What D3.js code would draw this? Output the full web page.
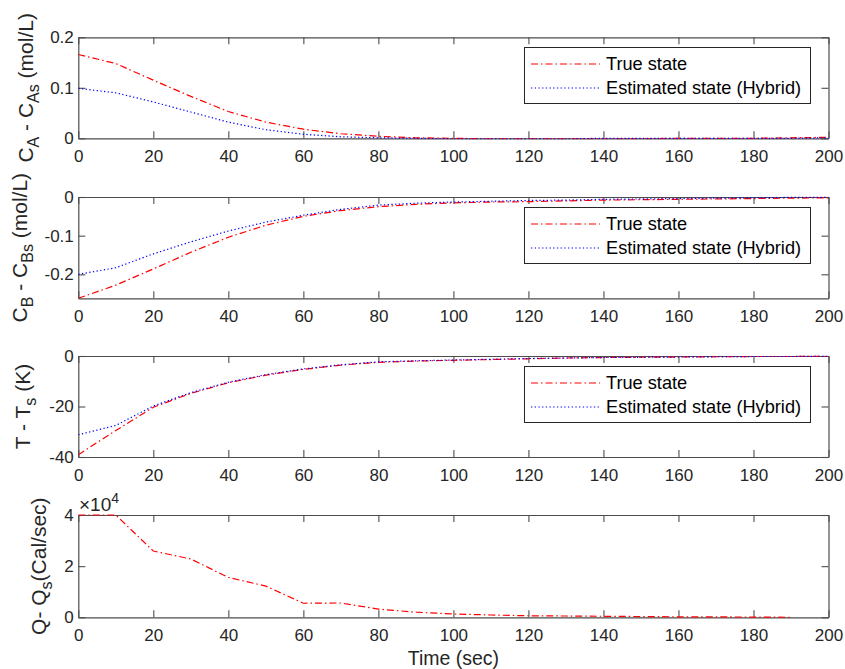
<!DOCTYPE html>
<html>
<head>
<meta charset="utf-8">
<script src="https://cdn.jsdelivr.net/npm/d3@7"></script>
<style>
  html, body { margin: 0; padding: 0; background: #fff; }
  svg { display: block; font-family: "Liberation Sans", Arial, Helvetica, sans-serif; }
</style>
</head>
<body>
<svg id="chart" width="845" height="669"></svg>
<script>
// ---------- DATA ----------
const time = [0,10,20,30,40,50,60,70,80,90,100,110,120,130,140,150,160,170,180,190,200];

const caTrue = [0.166,0.148,0.115,0.083,0.053,0.032,0.018,0.009,0.004,0.001,0.000,-0.001,-0.001,-0.001,-0.001,-0.001,0.000,0.000,0.000,0.001,0.002];
const caEst  = [0.099,0.090,0.072,0.052,0.032,0.017,0.008,0.003,0.001,0.000,-0.001,-0.001,-0.001,-0.001,0.000,0.000,0.000,0.000,0.000,0.000,0.001];

const cbTrue = [-0.262,-0.228,-0.186,-0.143,-0.104,-0.073,-0.050,-0.035,-0.025,-0.019,-0.015,-0.013,-0.012,-0.010,-0.008,-0.007,-0.006,-0.005,-0.004,-0.003,-0.002];
const cbEst  = [-0.200,-0.183,-0.147,-0.116,-0.088,-0.065,-0.047,-0.032,-0.021,-0.016,-0.013,-0.011,-0.009,-0.008,-0.006,-0.005,-0.004,-0.003,-0.002,-0.001,-0.001];

const tTrue = [-39.1,-29.5,-20.3,-14.8,-10.6,-7.6,-5.3,-3.6,-2.5,-2.0,-1.7,-1.4,-1.1,-0.8,-0.6,-0.5,-0.4,-0.3,-0.2,-0.2,-0.1];
const tEst  = [-31.2,-27.5,-19.8,-14.5,-10.4,-7.4,-5.1,-3.5,-2.3,-1.9,-1.6,-1.3,-1.0,-0.8,-0.6,-0.5,-0.4,-0.3,-0.2,-0.2,-0.1];

const qTime = [0,10,20,30,40,50,60,70,80,90,100,110,120,130,140,150,160,170,180,190];
const qTrue = [40000,40000,25900,22800,15600,12200,5500,5600,3200,2000,1300,900,600,500,400,300,200,150,100,0];

const xTicks = [0,20,40,60,80,100,120,140,160,180,200];
const legendLabels = ["True state", "Estimated state (Hybrid)"];

// ---------- LAYOUT ----------
const svg = d3.select("#chart");
const X0 = 78.3, X1 = 828.5;
const x = d3.scaleLinear().domain([0,200]).range([X0, X1]);
const textColor = "#262626";
const axisColor = "#4d4d4d";
const dashDot = "7,3,1.5,3";
const dotted = "1.3,2.4";
const FS_TICK = 17, FS_LAB = 21, FS_SUB = 16, FS_LEG = 18.2;

const panels = [
  { top: 37.3, bottom: 138.3, domain: [0, 0.2], ticks: [0, 0.1, 0.2], fmt: d => d === 0 ? "0" : d3.format(".1f")(d),
    series: [{ t: time, v: caTrue, color: "#ff0000", dash: dashDot }, { t: time, v: caEst, color: "#0000ff", dash: dotted }],
    legend: true, labelX: 33,
    label: [["C", 0], ["A", 1], [" - C", 0], ["As", 1], [" (mol/L)", 0]] },
  { top: 197, bottom: 298.3, domain: [-0.262, 0], ticks: [-0.2, -0.1, 0], fmt: d => d === 0 ? "0" : d3.format(".1f")(d).replace("−","-"),
    series: [{ t: time, v: cbTrue, color: "#ff0000", dash: dashDot }, { t: time, v: cbEst, color: "#0000ff", dash: dotted }],
    legend: true, labelX: 27,
    label: [["C", 0], ["B", 1], [" - C", 0], ["Bs", 1], [" (mol/L)", 0]] },
  { top: 356, bottom: 457, domain: [-40, 0], ticks: [-40, -20, 0], fmt: d => String(d),
    series: [{ t: time, v: tTrue, color: "#ff0000", dash: dashDot }, { t: time, v: tEst, color: "#0000ff", dash: dotted }],
    legend: true, labelX: 30,
    label: [["T - T", 0], ["s", 1], [" (K)", 0]] },
  { top: 515, bottom: 617.3, domain: [0, 40000], ticks: [0, 20000, 40000], fmt: d => String(d / 10000),
    series: [{ t: qTime, v: qTrue, color: "#ff0000", dash: dashDot }],
    legend: false, labelX: 46, exponent: true,
    label: [["Q- Q", 0], ["s", 1], ["(Cal/sec)", 0]] }
];

panels.forEach((p, pi) => {
  const y = d3.scaleLinear().domain(p.domain).range([p.bottom, p.top]);
  const g = svg.append("g");

  const clipId = "clip" + pi;
  svg.append("clipPath").attr("id", clipId).append("rect")
    .attr("x", X0).attr("y", p.top - 1).attr("width", X1 - X0).attr("height", p.bottom - p.top + 2);

  const tl = 7;
  const axB = d3.axisBottom(x).tickValues(xTicks).tickSizeInner(-tl).tickSizeOuter(0).tickPadding(12).tickFormat(d3.format("d"));
  const axT = d3.axisTop(x).tickValues(xTicks).tickSizeInner(-tl).tickSizeOuter(0).tickFormat("");
  const axL = d3.axisLeft(y).tickValues(p.ticks).tickSizeInner(-tl).tickSizeOuter(0).tickPadding(12).tickFormat(p.fmt);
  const axR = d3.axisRight(y).tickValues(p.ticks).tickSizeInner(-tl).tickSizeOuter(0).tickFormat("");

  const gB = g.append("g").attr("transform", `translate(0,${p.bottom})`).call(axB);
  const gT = g.append("g").attr("transform", `translate(0,${p.top})`).call(axT);
  const gL = g.append("g").attr("transform", `translate(${X0},0)`).call(axL);
  const gR = g.append("g").attr("transform", `translate(${X1},0)`).call(axR);
  [gB, gT, gL, gR].forEach(a => {
    a.select(".domain").attr("stroke", axisColor).attr("stroke-width", 1.2);
    a.selectAll(".tick line").attr("stroke", axisColor).attr("stroke-width", 1.1);
    a.selectAll(".tick text").attr("fill", textColor).style("font-size", FS_TICK + "px")
      .style("font-family", '"Liberation Sans", Arial, sans-serif');
  });
  gL.selectAll(".tick text").attr("x", -4.5);

  const lines = g.append("g").attr("clip-path", `url(#${clipId})`);
  p.series.forEach(s => {
    const pts = s.t.map((t, i) => [t, s.v[i]]);
    lines.append("path")
      .attr("d", d3.line().x(d => x(d[0])).y(d => y(d[1]))(pts))
      .attr("fill", "none").attr("stroke", s.color).attr("stroke-width", 1.2)
      .attr("stroke-dasharray", s.dash);
  });

  if (p.legend) {
    const lx = 524.5, ly = Math.round(p.top + 9.5) + 0.5, lw = 286, lh = 56;
    const lg = g.append("g");
    lg.append("rect").attr("x", lx).attr("y", ly).attr("width", lw).attr("height", lh)
      .attr("fill", "#fff").attr("stroke", textColor).attr("stroke-width", 1);
    p.series.forEach((s, i) => {
      const cy = Math.round(ly + 16 + i * 24.6);
      lg.append("line").attr("x1", 531).attr("x2", 600).attr("y1", cy).attr("y2", cy)
        .attr("stroke", s.color).attr("stroke-width", 1.2).attr("stroke-dasharray", s.dash);
      lg.append("text").attr("x", 606).attr("y", cy).attr("dy", "0.35em")
        .attr("fill", "#000").style("font-size", FS_LEG + "px").text(legendLabels[i]);
    });
  }

  const cyMid = (p.top + p.bottom) / 2;
  const lab = g.append("text")
    .attr("transform", `translate(${p.labelX},${cyMid}) rotate(-90)`)
    .attr("text-anchor", "middle").attr("fill", textColor).style("font-size", FS_LAB + "px");
  p.label.forEach(([txt, sub], i) => {
    const ts = lab.append("tspan").text(txt).attr("xml:space", "preserve").style("white-space", "pre");
    if (sub) ts.style("font-size", FS_SUB + "px").attr("dy", 6);
    else if (i > 0 && p.label[i - 1][1]) ts.attr("dy", -6);
  });

  if (p.exponent) {
    const ex = g.append("text").attr("x", 79).attr("y", p.top - 4.5).attr("fill", textColor)
      .style("font-size", "19px");
    ex.append("tspan").text("\u00d710");
    ex.append("tspan").text("4").style("font-size", "14px").attr("dy", -8);
  }
});

svg.append("text").attr("x", (X0 + X1) / 2).attr("y", 665).attr("text-anchor", "middle")
  .attr("fill", textColor).style("font-size", "19.5px").text("Time (sec)");
</script>
</body>
</html>
